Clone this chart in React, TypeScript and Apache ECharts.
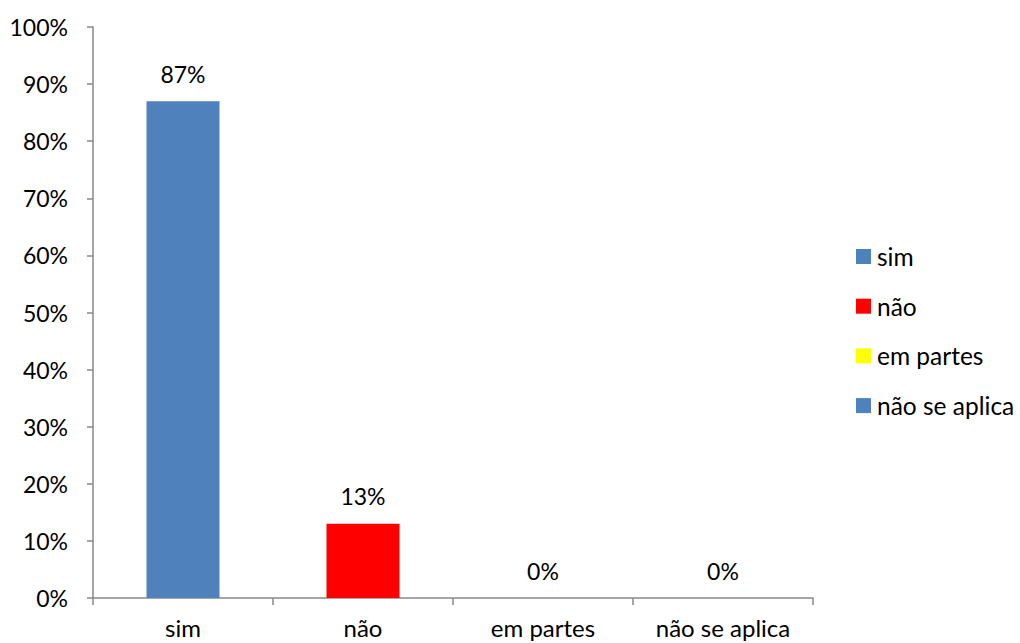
import React, { useEffect, useRef } from "react";
import * as echarts from "echarts";

const categories = ["sim", "não", "em partes", "não se aplica"];
const seriesNames = ["sim", "não", "em partes", "não se aplica"];
const values = [87, 13, 0, 0];
const colors = ["#4F81BD", "#FF0000", "#FFFF00", "#4F81BD"];
const yTicks = [0, 10, 20, 30, 40, 50, 60, 70, 80, 90, 100];

const FONT = "Lato";
const NUM_SIZE = 23;
const WORD_SIZE = 24.5;

export default function App() {
  const ref = useRef<HTMLDivElement>(null);
  useEffect(() => {
    if (!ref.current) return;
    const chart = echarts.init(ref.current, null, { renderer: "svg" });
    const series = seriesNames.map((name, i) => ({
      name,
      type: "bar",
      stack: "all",
      barWidth: 73,
      data: categories.map((_, j) => (j === i ? values[j] : "-")),
      itemStyle: { color: colors[i] },
      label: {
        show: true,
        position: "top",
        distance: 16,
        formatter: (p: any) => `${p.value}%`,
        color: "#000",
        fontFamily: FONT,
        fontSize: NUM_SIZE,
      },
    }));
    chart.setOption({
      animation: false,
      textStyle: { fontFamily: FONT },
      grid: { left: 93, right: 207, top: 27, bottom: 45, containLabel: false },
      xAxis: {
        type: "category",
        data: categories,
        axisLine: { show: true, lineStyle: { color: "#898989", width: 1.5 } },
        axisTick: { show: true, length: 7, lineStyle: { color: "#898989", width: 1.5 } },
        axisLabel: { color: "#000", fontFamily: FONT, fontSize: 24, margin: 17 },
        splitLine: { show: false },
      },
      yAxis: {
        type: "value",
        min: yTicks[0],
        max: yTicks[yTicks.length - 1],
        interval: 10,
        axisLine: { show: true, lineStyle: { color: "#898989", width: 1.5 } },
        axisTick: { show: true, length: 6, lineStyle: { color: "#898989", width: 1.5 } },
        axisLabel: {
          color: "#000",
          fontFamily: FONT,
          fontSize: NUM_SIZE,
          margin: 25,
          formatter: (v: number) => `${v}%`,
        },
        splitLine: { show: false },
      },
      legend: {
        orient: "vertical",
        left: 851,
        top: 239,
        icon: "rect",
        itemWidth: 15,
        itemHeight: 15,
        itemGap: 24.7,
        data: seriesNames,
        textStyle: {
          color: "#000",
          fontFamily: FONT,
          fontSize: WORD_SIZE,
          lineHeight: 24,
          padding: [0, 0, 0, 1],
        },
        selectedMode: false,
      },
      series,
    });
    return () => chart.dispose();
  }, []);
  return (
    <div
      ref={ref}
      style={{ position: "fixed", left: 0, top: 0, width: 1020, height: 643, background: "#fff" }}
    />
  );
}
